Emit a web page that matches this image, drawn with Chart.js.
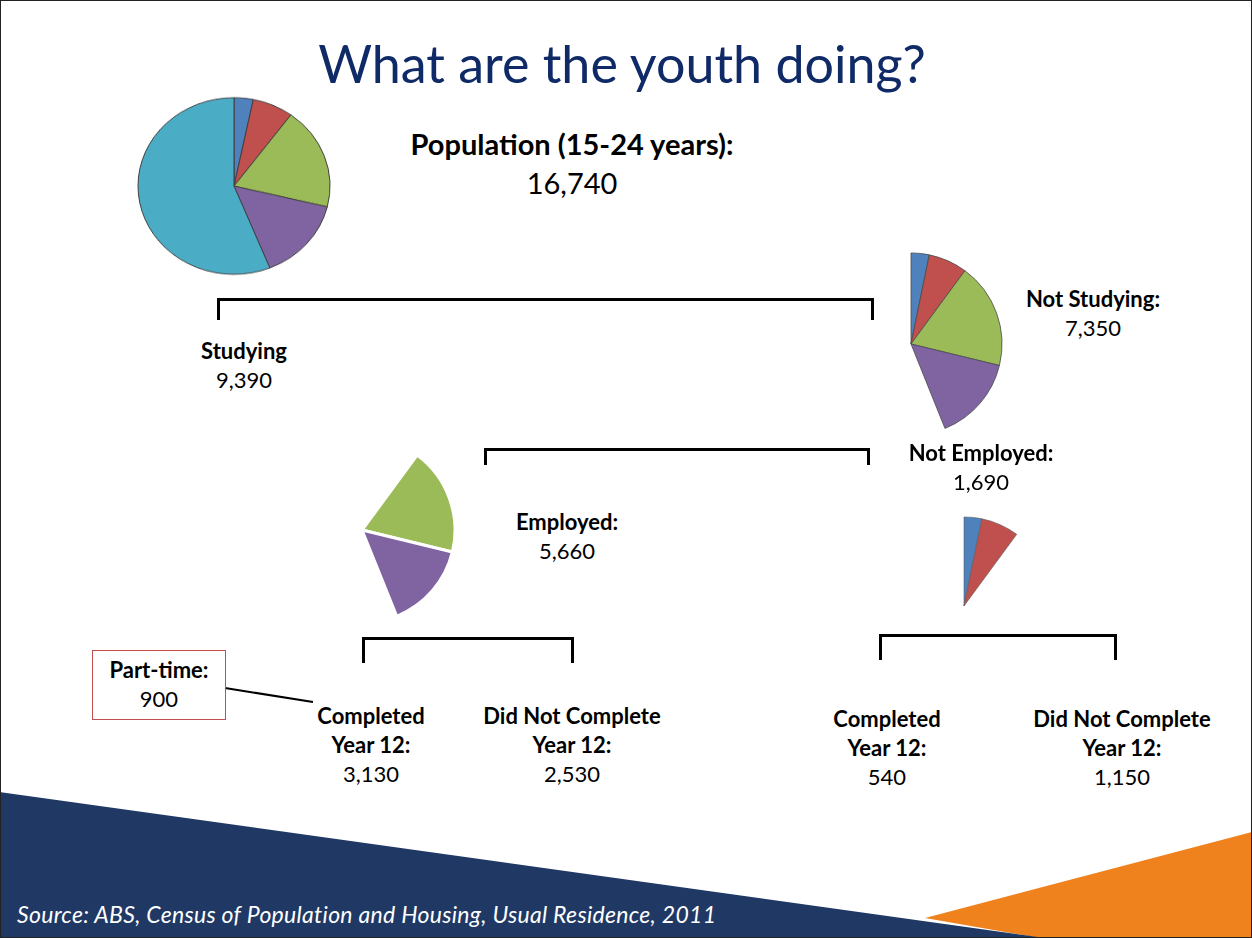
<!DOCTYPE html>
<html>
<head>
<meta charset="utf-8">
<title>What are the youth doing?</title>
<script src="https://cdn.jsdelivr.net/npm/chart.js@4.4.1/dist/chart.umd.min.js"></script>
<style>
  html, body { margin: 0; padding: 0; background: #fff; }
  #slide {
    position: relative; width: 1252px; height: 938px; overflow: hidden;
    background: #fff; font-family: Lato, "Open Sans", sans-serif; color: #000;
    box-sizing: border-box; border: 1px solid #222;
  }
  .bg { position: absolute; left: -1px; top: -1px; }
  .pie { position: absolute; }
  .lbl {
    position: absolute; transform: translateX(-50%); text-align: center;
    white-space: nowrap; font-size: 22px; line-height: 29px;
  }
  .lbl b { font-weight: 700; }
  .bracket { position: absolute; border: 3px solid #000; border-bottom: none; box-sizing: border-box; }
  #title {
    position: absolute; left: 621px; top: 31px; transform: translateX(-50%);
    font-size: 52px; line-height: 1.2; color: #0f2a66; white-space: nowrap;
  }
  #population { font-size: 29px; line-height: 39px; }
  #partBox {
    position: absolute; left: 91px; top: 649px; width: 134px; height: 70px;
    border: 1.5px solid #c0504d; box-sizing: border-box;
  }
  #source {
    position: absolute; left: 16px; top: 900px; font-size: 23px; line-height: 1.2;
    letter-spacing: 0.3px; font-style: italic; color: #fff; white-space: nowrap;
  }
</style>
</head>
<body>
<div id="slide">
  <svg class="bg" width="1252" height="938">
    <polygon points="925,918 1252,832 1252,938 1040,938" fill="#f0821e"/>
    <polygon points="0,792 1045,938 0,938" fill="#1f3864"/>
    <line x1="225" y1="688" x2="313" y2="702" stroke="#000" stroke-width="2"/>
  </svg>

  <div id="title">What are the youth doing?</div>

  <div class="bracket" style="left:216px;top:297px;width:657px;height:22px"></div>
  <div class="bracket" style="left:483px;top:447px;width:386px;height:17px"></div>
  <div class="bracket" style="left:361px;top:636px;width:212px;height:26px"></div>
  <div class="bracket" style="left:878px;top:633px;width:238px;height:26px"></div>

  <div id="partBox"></div>

  <div class="lbl" id="population" style="left:571px;top:123px"></div>
  <div class="lbl" id="lblStudying" style="left:243px;top:335px"></div>
  <div class="lbl" id="lblNotStudying" style="left:1092px;top:283px"></div>
  <div class="lbl" id="lblNotEmployed" style="left:980px;top:437px"></div>
  <div class="lbl" id="lblEmployed" style="left:566px;top:506px"></div>
  <div class="lbl" id="lblEmpDone" style="left:370px;top:700px"></div>
  <div class="lbl" id="lblEmpNotDone" style="left:571px;top:700px"></div>
  <div class="lbl" id="lblUnDone" style="left:886px;top:703px"></div>
  <div class="lbl" id="lblUnNotDone" style="left:1121px;top:703px"></div>
  <div class="lbl" id="lblPartTime" style="left:158px;top:654px"></div>

  <div id="source">Source: ABS, Census of Population and Housing, Usual Residence, 2011</div>
</div>

<script>
// segments of the 15-24 population, clockwise from 12 o'clock
const segments = [
  "Not employed, completed Year 12",
  "Not employed, did not complete Year 12",
  "Employed, completed Year 12",
  "Employed, did not complete Year 12",
  "Studying",
];
const counts = [540, 1150, 3130, 2530, 9390];
const colours = ["#4f81bd", "#c0504d", "#9bbb59", "#8064a2", "#4bacc6"];
const partTime = 900;

// which segments each pie shows
const showAll = [1, 1, 1, 1, 1];
const showNotStudying = [1, 1, 1, 1, 0];
const showEmployed = [0, 0, 1, 1, 0];
const showNotEmployed = [1, 1, 0, 0, 0];

const fmt = (n) => n.toLocaleString("en-US");
const sum = (idx) => idx.reduce((s, i) => s + counts[i], 0);

document.getElementById("population").innerHTML =
  `<b>Population (15-24 years):</b><br>${fmt(sum([0, 1, 2, 3, 4]))}`;
setLabel("lblStudying", "Studying", sum([4]));
setLabel("lblNotStudying", "Not Studying:", sum([0, 1, 2, 3]));
setLabel("lblNotEmployed", "Not Employed:", sum([0, 1]));
setLabel("lblEmployed", "Employed:", sum([2, 3]));
setLabel("lblEmpDone", "Completed<br>Year 12:", counts[2]);
setLabel("lblEmpNotDone", "Did Not Complete<br>Year 12:", counts[3]);
setLabel("lblUnDone", "Completed<br>Year 12:", counts[0]);
setLabel("lblUnNotDone", "Did Not Complete<br>Year 12:", counts[1]);
setLabel("lblPartTime", "Part-time:", partTime);

function setLabel(id, title, value) {
  document.getElementById(id).innerHTML = `<b>${title}</b><br>${fmt(value)}`;
}

function makePie(cx, cy, r, show, edge, edgeWidth, squash) {
  const size = Math.ceil(r * 2 + 8);
  const box = document.createElement("div");
  box.className = "pie";
  box.style.left = cx - size / 2 + "px";
  box.style.top = cy - size / 2 + "px";
  box.style.width = size + "px";
  box.style.height = size + "px";
  if (squash) box.style.transform = `scaleY(${squash})`;
  const canvas = document.createElement("canvas");
  canvas.width = size;
  canvas.height = size;
  box.appendChild(canvas);
  document.getElementById("slide").insertBefore(box, document.getElementById("title"));

  const clear = "rgba(0,0,0,0)";
  new Chart(canvas, {
    type: "pie",
    data: {
      labels: segments,
      datasets: [
        {
          data: counts,
          backgroundColor: colours.map((c, i) => (show[i] ? c : clear)),
          borderColor: show.map((s) => (s ? edge : clear)),
          borderWidth: show.map((s) => (s ? edgeWidth : 0)),
        },
      ],
    },
    options: {
      responsive: false,
      animation: false,
      events: [],
      radius: r,
      layout: { padding: 0 },
      plugins: { legend: { display: false }, tooltip: { enabled: false } },
    },
  });
}

makePie(233, 185, 96, showAll, "#3f3f3f", 1, 0.92);
makePie(910, 343, 91, showNotStudying, "#4a4a4a", 0.8);
makePie(361, 529, 93, showEmployed, "#ffffff", 3);
makePie(963, 605, 89, showNotEmployed, "#5a5a5a", 0.6);
</script>
</body>
</html>
